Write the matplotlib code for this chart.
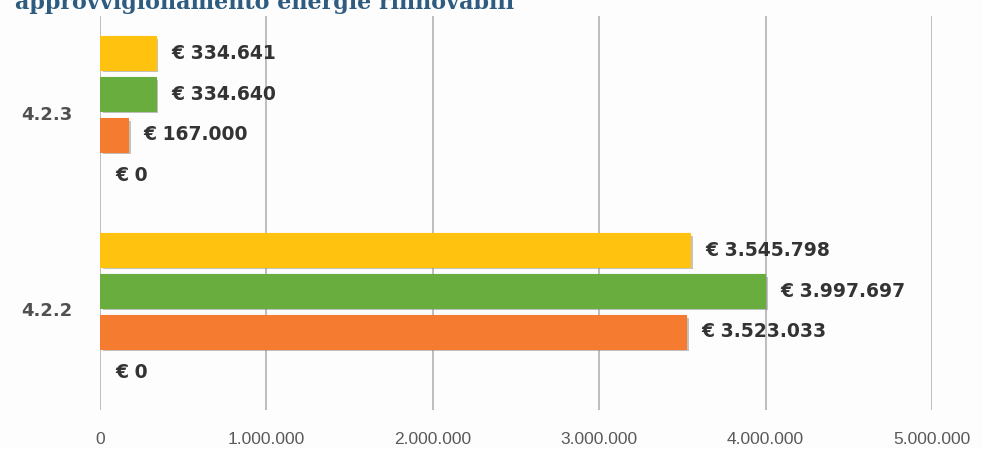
import numpy as np
import matplotlib.pyplot as plt
import matplotlib.patheffects as pe

categories = ["4.2.2", "4.2.3"]
series_names = ["Serie 1", "Serie 2", "Serie 3", "Serie 4"]
# values per series, in category order (4.2.2, 4.2.3); series listed bottom to top
values = [
    [0, 0],
    [3523033, 167000],
    [3997697, 334640],
    [3545798, 334641],
]
colors = ["#4472C4", "#F47B2F", "#6AAD3F", "#FFC20E"]
xticks = [0, 1000000, 2000000, 3000000, 4000000, 5000000]
title = "approvvigionamento energie rinnovabili"


def fmt(v):
    return "{:,}".format(int(v)).replace(",", ".")


fig = plt.figure(figsize=(9.82, 4.49), dpi=100, facecolor="#FDFDFD")
ax = fig.add_axes([100 / 982, 39 / 449, 832 / 982, 394 / 449])
ax.set_facecolor("#FDFDFD")

step = 0.208
height = 0.168
y = np.arange(len(categories))
shadow = [pe.SimplePatchShadow(offset=(2, -2), shadow_rgbFace="#888888", alpha=0.5), pe.Normal()]

for i, (vals, col) in enumerate(zip(values, colors)):
    pos = y + (i - 1.5) * step
    visible = max(vals) > 0
    ax.barh(pos, vals, height=height, color=col, edgecolor=col,
            linewidth=0.8 if visible else 0, zorder=3,
            path_effects=shadow if visible else None)
    for p, v in zip(pos, vals):
        ax.annotate("€ " + fmt(v), (v, p), xytext=(11, 0), textcoords="offset points",
                    va="center", ha="left", fontsize=13.5, fontweight="bold",
                    color="#333333", family="DejaVu Sans")

ax.set_xlim(0, 5000000)
ax.set_ylim(-0.5, 1.5)
ax.set_xticks(xticks)
ax.set_xticklabels([fmt(t) for t in xticks], fontsize=12.5, color="#595959",
                   family="Liberation Sans")
ax.tick_params(axis="x", length=0, pad=16)
ax.set_yticks([])
for yy, cat in zip(y, categories):
    ax.text(-0.0637, yy, cat, transform=ax.get_yaxis_transform(), ha="center",
            va="center", fontsize=13, fontweight="bold", color="#505050")

ax.grid(axis="x", color="#BDBDBD", linewidth=1.4, zorder=0)
for s in ax.spines.values():
    s.set_visible(False)

fig.text(15 / 982, 1 - 9 / 449, title, fontsize=16, fontweight="bold",
         color="#2E5C80", family="DejaVu Serif", va="baseline", ha="left")

fig.savefig("out.png", dpi=100, facecolor=fig.get_facecolor())
